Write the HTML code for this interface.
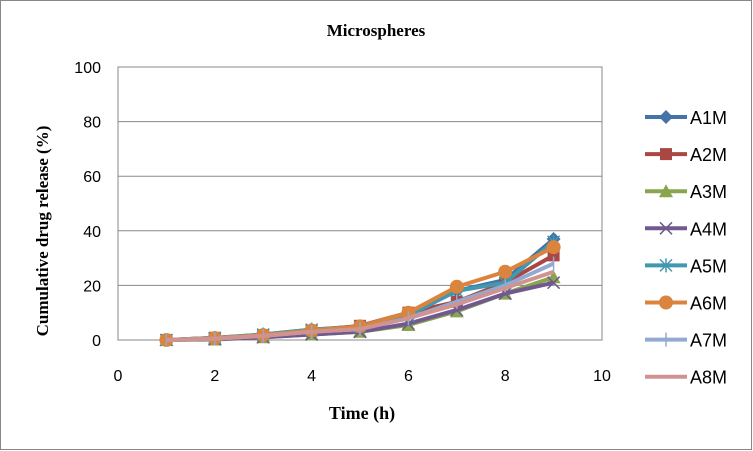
<!DOCTYPE html>
<html><head><meta charset="utf-8"><style>
body{margin:0;background:#fff;}
svg{display:block;font-family:"Liberation Sans",sans-serif;}
</style></head><body>
<svg id="chart" width="753" height="451" viewBox="0 0 753 451">
<rect x="0.5" y="0.5" width="751" height="449" fill="#fff" stroke="#888"/>
<text x="376" y="36" text-anchor="middle" font-family="Liberation Serif,serif" font-weight="bold" font-size="17">Microspheres</text>
<rect x="118" y="67" width="484" height="273" fill="none" stroke="#888"/>
<g id="grid"></g><g id="ticks"></g><g id="series"></g><g id="legend"></g>
<text x="362" y="419" text-anchor="middle" font-family="Liberation Serif,serif" font-weight="bold" font-size="18">Time (h)</text>
<text transform="translate(48,231) rotate(-90)" text-anchor="middle" font-family="Liberation Serif,serif" font-weight="bold" font-size="17">Cumulative drug release (%)</text>
</svg>
<script>
const times=[1,2,3,4,5,6,7,8,9];
const seriesNames=["A1M","A2M","A3M","A4M","A5M","A6M","A7M","A8M"];
const a1=[0,0.8,2,3.8,5,10,18,22,37];
const a2=[0,0.8,1.8,3.5,5.2,10,14,21,31];
const a3=[0,0.2,1,2,3,5.5,10.5,17,23];
const a4=[0,0.3,1,2,3,6,11,17,21];
const a5=[0,0.8,2,3.8,4.8,9,18,21,36];
const a6=[0,0.7,1.8,3.5,5,10,19.5,25,34];
const a7=[0,0.5,1.5,3,4,8,14,20,28];
const a8=[0,0.5,1.5,3,4,8,13,19,25];
const xTicks=[0,2,4,6,8,10];
const yTicks=[0,20,40,60,80,100];
const seriesData=[a1,a2,a3,a4,a5,a6,a7,a8];
const colors=["#4572A7","#AA4643","#89A54E","#71588F","#4198AF","#DB843D","#93A9CF","#D19392"];
const markers=["diamond","square","triangle","x","star","circle","plus","none"];
const NS="http://www.w3.org/2000/svg";
const X=v=>118+v*48.4, Y=v=>340-v*2.73;
function mk(t,a,p){const e=document.createElementNS(NS,t);for(const k in a)e.setAttribute(k,a[k]);p.appendChild(e);return e;}
const grid=document.getElementById('grid'),ticks=document.getElementById('ticks');
yTicks.forEach(v=>{
 const l=mk('line',{x1:118,x2:602,y1:Y(v),y2:Y(v),stroke:'#888'},grid);
 
 
 const t=mk('text',{x:101,y:Y(v)+6,'text-anchor':'end','font-size':16},ticks);t.textContent=v;
 
 
});
xTicks.forEach(v=>{
 const t=mk('text',{x:X(v),y:381,'text-anchor':'middle','font-size':16},ticks);t.textContent=v;
 
 
});
function marker(g,type,x,y,c){
 if(type==='diamond')mk('polygon',{points:`${x},${y-7} ${x+7},${y} ${x},${y+7} ${x-7},${y}`,fill:c},g);
 else if(type==='square')mk('rect',{x:x-6,y:y-6,width:12,height:12,fill:c},g);
 else if(type==='triangle')mk('polygon',{points:`${x},${y-7} ${x+7},${y+6} ${x-7},${y+6}`,fill:c},g);
 else if(type==='x'){mk('path',{d:`M${x-6} ${y-6}L${x+6} ${y+6}M${x-6} ${y+6}L${x+6} ${y-6}`,stroke:c,'stroke-width':1.5},g);}
 else if(type==='star'){mk('path',{d:`M${x-6} ${y-6}L${x+6} ${y+6}M${x-6} ${y+6}L${x+6} ${y-6}M${x} ${y-7}L${x} ${y+7}`,stroke:c,'stroke-width':1.5},g);}
 else if(type==='circle')mk('circle',{cx:x,cy:y,r:7,fill:c},g);
 else if(type==='plus')mk('path',{d:`M${x} ${y-7}L${x} ${y+7}`,stroke:c,'stroke-width':1.5},g);
}
const sg=document.getElementById('series'),lg=document.getElementById('legend');
seriesData.forEach((d,i)=>{
 const g=mk('g',{},sg);
 
 
 mk('polyline',{points:d.map((v,j)=>X(times[j])+','+Y(v)).join(' '),fill:'none',stroke:colors[i],'stroke-width':4,'stroke-linejoin':'round'},g);
 d.forEach((v,j)=>marker(g,markers[i],X(times[j]),Y(v),colors[i]));
 const ly=117+i*37.1;
 const le=mk('g',{},lg);
 
 
 mk('line',{x1:645,x2:687,y1:ly,y2:ly,stroke:colors[i],'stroke-width':4},le);
 marker(le,markers[i],666,ly,colors[i]);
 const t=mk('text',{x:690,y:ly+7,'font-size':18},le);t.textContent=seriesNames[i];
});
</script>
</body></html>
